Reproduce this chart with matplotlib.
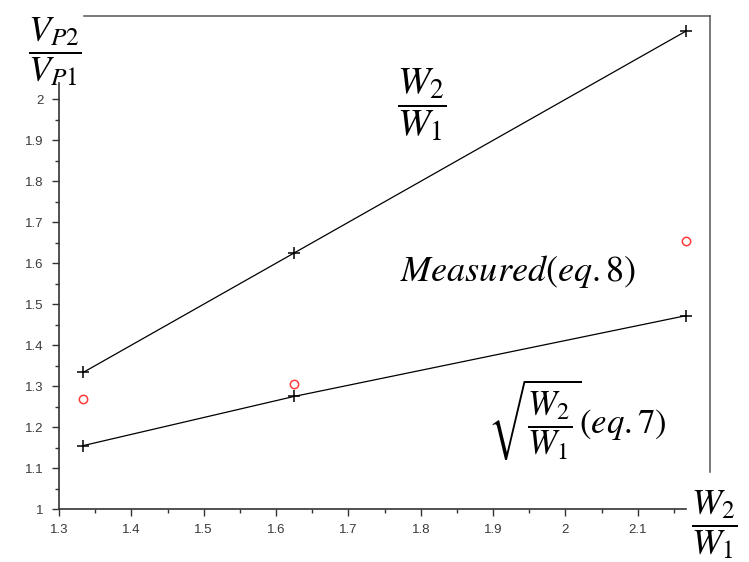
import matplotlib
matplotlib.use("Agg")
import matplotlib.pyplot as plt
from matplotlib.lines import Line2D
import numpy as np

# data
ratio = [1.3333, 1.625, 2.1667]          # W2/W1
vp_linear = [1.3333, 1.625, 2.1667]      # W2/W1 curve
vp_sqrt = [1.1547, 1.2748, 1.4720]       # sqrt(W2/W1) (eq.7)
vp_measured = [1.269, 1.305, 1.655]      # measured (eq.8)

plt.rcParams["mathtext.fontset"] = "stix"
plt.rcParams["font.family"] = ["Liberation Sans", "DejaVu Sans"]

fig = plt.figure(figsize=(7.49, 5.62), dpi=100)
ax = fig.add_axes([59 / 749, 53 / 562, (686 - 59) / 749, (509 - 83) / 562])

ax.plot(ratio, vp_linear, color="black", linewidth=0.9, marker="+",
        markersize=8, markeredgewidth=1.1, clip_on=False)
ax.plot(ratio, vp_sqrt, color="black", linewidth=0.9, marker="+",
        markersize=8, markeredgewidth=1.1, clip_on=False)
ax.plot(ratio, vp_measured, linestyle="none", marker="o", markersize=6,
        markerfacecolor="none", markeredgecolor="#ff3b3b", markeredgewidth=1.1,
        clip_on=False)

ax.set_xlim(1.3, 2.1667)
ax.set_ylim(1.0, 2.04)
ax.set_xticks(np.arange(1.3, 2.15, 0.1))
ax.set_xticklabels(["1.3", "1.4", "1.5", "1.6", "1.7", "1.8", "1.9", "2", "2.1"])
ax.set_xticks(np.arange(1.35, 2.16, 0.1), minor=True)
ax.set_yticks(np.arange(1.0, 2.01, 0.1))
ax.set_yticklabels(["1", "1.1", "1.2", "1.3", "1.4", "1.5", "1.6", "1.7", "1.8", "1.9", "2"])
ax.set_yticks(np.arange(1.05, 2.04, 0.1), minor=True)

for s in ["top", "right"]:
    ax.spines[s].set_visible(False)
for s in ["left", "bottom"]:
    ax.spines[s].set_color("#333333")
    ax.spines[s].set_linewidth(1.2)
ax.tick_params(which="major", length=5, width=1, color="#333333",
               labelsize=9.5, labelcolor="#3a3a3a", pad=6)
ax.tick_params(which="minor", length=3, width=1, color="#333333")

# frame lines on top and right
fig.add_artist(Line2D([84 / 749, 710 / 749], [1 - 16 / 562, 1 - 16 / 562],
                      color="#555555", linewidth=1.1))
fig.add_artist(Line2D([710 / 749, 710 / 749], [1 - 16 / 562, 1 - 472 / 562],
                      color="#555555", linewidth=1.1))

# annotations
fig.text(55 / 749, 1 - 52 / 562, r"$\dfrac{V_{P2}}{V_{P1}}$", fontsize=26,
         ha="center", va="center")
fig.text(422 / 749, 1 - 105 / 562, r"$\dfrac{W_2}{W_1}$", fontsize=28,
         ha="center", va="center")
fig.text(518 / 749, 1 - 272 / 562, r"$Measured(eq.8)$", fontsize=26,
         ha="center", va="center")
fig.text(577 / 749, 1 - 420 / 562, r"$\sqrt{\dfrac{W_2}{W_1}}(eq.7)$", fontsize=25,
         ha="center", va="center")
fig.text(714 / 749, 1 - 525 / 562, r"$\dfrac{W_2}{W_1}$", fontsize=26,
         ha="center", va="center")

fig.savefig("out.png", dpi=100, facecolor="white")
